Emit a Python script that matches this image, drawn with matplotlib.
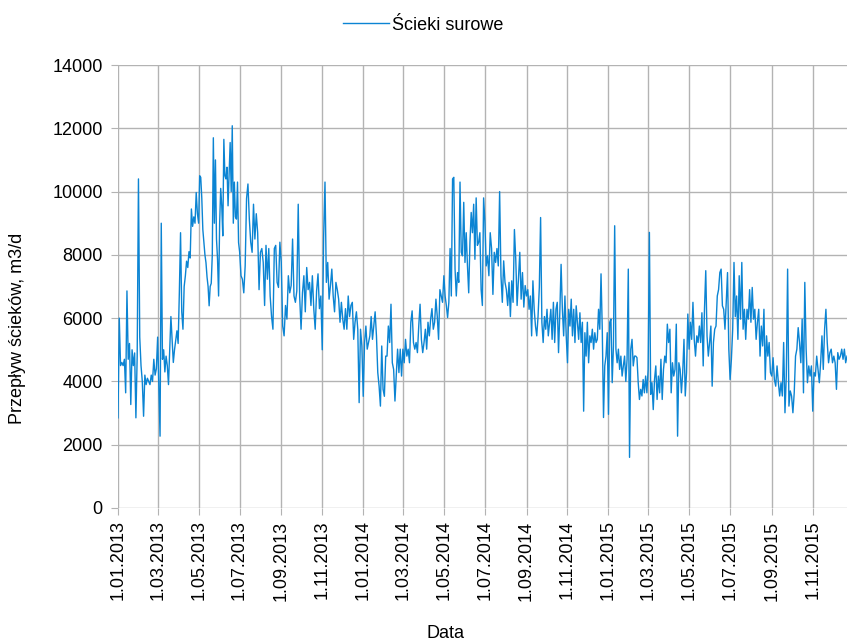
import numpy as np
import pandas as pd
import matplotlib
matplotlib.use("Agg")
import matplotlib.pyplot as plt
from matplotlib.ticker import FuncFormatter, MultipleLocator

plt.rcParams['font.family'] = ['Liberation Sans', 'DejaVu Sans']

# Dobowy przepływ ścieków surowych [m3/d], odczyty w okresach dwumiesięcznych
period_starts = ["2013-01-01", "2013-03-01", "2013-05-01", "2013-07-01", "2013-09-01",
                 "2013-11-01", "2014-01-01", "2014-03-01", "2014-05-01", "2014-07-01",
                 "2014-09-01", "2014-11-01", "2015-01-01", "2015-03-01", "2015-05-01",
                 "2015-07-01", "2015-09-01", "2015-11-01", "2015-12-22"]

flow_2013_01 = [2850, 6000, 4500, 4600, 4500, 4700, 3640, 6860, 4700, 5200, 3270, 5000, 4500, 4900,
                2850, 4800, 10400, 5400, 4500, 4000, 2900, 4200, 3900, 4100, 4000, 3900, 4200, 4000,
                4700, 4200, 4400]
flow_2013_03 = [5400, 3900, 2270, 9000, 4700, 5000, 4300, 4800, 4500, 3900, 5000, 6050, 5300, 4600,
                5000, 5300, 5600, 5200, 6800, 8700, 6200, 5650, 7000, 7340, 7800, 7600, 8100, 7900,
                9450, 8900, 9200, 9000, 9970, 9300]
flow_2013_05 = [9000, 10500, 10450, 9800, 8800, 8400, 8000, 7750, 7300, 7000, 6390, 7000, 7100, 8000,
                11700, 9000, 11000, 8500, 7860, 6700, 9000, 10100, 9550, 8600, 11650, 10500, 10400,
                10770, 9550, 10500, 11550, 10000, 12080, 9000, 10300, 9200, 9130, 10300, 8390]
flow_2013_07 = [8100, 7340, 7230, 6800, 7650, 9780, 10240, 9130, 8400, 8080, 9600, 8500, 9300, 8700,
                6900, 8080, 8200, 7760, 6400, 8300, 7230, 8200, 6700, 6050, 5650, 8200, 8300, 7130,
                6970, 8400]
flow_2013_09 = [7760, 5750, 5440, 6400, 5970, 7340, 6800, 7030, 8500, 6700, 6500, 6860, 9600, 6700,
                5650, 6800, 7340, 6200, 7600, 6900, 7130, 6400, 7340, 6300, 5650, 6860, 7400, 6300,
                6700]
flow_2013_11 = [5000, 8550, 10300, 7130, 7760, 6600, 7030, 7550, 6700, 6200, 7130, 6900, 6600, 5870,
                6500, 5970, 5650, 6300, 5650, 6700, 6050, 6400, 6500, 5330, 5870, 6200, 5650, 3330,
                5650, 5120]
flow_2014_01 = [3530, 5230, 5750, 5020, 5230, 5440, 6050, 5330, 5750, 6200, 5440, 4280, 3850, 3220,
                5120, 3750, 3530, 4800, 4800, 5750, 5230, 6440, 4590, 4380, 3380, 4170, 5020, 4280,
                5020, 4170]
flow_2014_03 = [5020, 4590, 5330, 4800, 5020, 4590, 5870, 6230, 5230, 5020, 5230, 4910, 5750, 6440,
                5330, 4910, 5230, 5650, 5020, 5870, 5440, 5970, 6300, 5650, 5870, 6600, 6050, 5330,
                6900, 6700, 6500]
flow_2014_05 = [7340, 6700, 6400, 6020, 6500, 8200, 6700, 10400, 10450, 7550, 6700, 7440, 7130, 10300,
                8080, 7970, 9660, 7760, 8700, 7650, 6800, 8400, 9340, 8700, 9600, 7860, 9800, 8300,
                8400, 8700, 6900, 6400, 9800]
flow_2014_07 = [9080, 7650, 7970, 7340, 8700, 8200, 6750, 8080, 7760, 8200, 7650, 10000, 7340, 6500,
                7810, 7130, 6900, 6400, 7130, 6050, 7180, 6500, 8800, 7860, 6400, 7230, 8080, 6600,
                7440, 6350, 7030]
flow_2014_09 = [6700, 6900, 6280, 6700, 5440, 7180, 6280, 5750, 5440, 6050, 6970, 9180, 5870, 5230,
                6050, 5650, 6280, 5440, 5870, 6280, 5330, 6500, 5230, 6280, 6500, 4910, 6170, 7700,
                6280, 5440, 6700, 5440]
flow_2014_11 = [4590, 6280, 5750, 6600, 5440, 6280, 5230, 6390, 5870, 5330, 6170, 5230, 5870, 3060,
                5540, 4800, 5870, 4590, 5440, 5230, 5650, 5020, 5540, 5230, 5330, 6280, 5650, 7400,
                5650, 2860, 4490, 4800, 5540]
flow_2015_01 = [2960, 5870, 5970, 3960, 5120, 8920, 5020, 4590, 5020, 4380, 4800, 4170, 4490, 4800,
                4000, 4700, 7550, 1600, 5020, 5330, 4490, 4800, 4800, 4750, 3960, 3430, 3750, 3540,
                4060, 3640, 4170, 3640]
flow_2015_03 = [4380, 8710, 3590, 3960, 3110, 4060, 4490, 3430, 4170, 3640, 4700, 3430, 4380, 4800,
                4590, 5810, 5230, 5650, 3640, 4590, 4170, 4380, 5810, 2270, 4590, 4380, 3640, 4280,
                5330, 3540, 4280, 6130]
flow_2015_05 = [5020, 5870, 5330, 6500, 5330, 4800, 5440, 5230, 5750, 5230, 6170, 4490, 6280, 7500,
                5440, 4800, 5230, 5750, 3850, 5230, 5650, 5750, 6700, 6900, 7440, 7550, 6390, 6280,
                5650, 6500, 7440, 5020]
flow_2015_07 = [4060, 4700, 5650, 7760, 6050, 6700, 5330, 7340, 5970, 7760, 5650, 6280, 5330, 6280,
                5970, 6900, 5870, 6970, 5970, 6280, 5330, 5870, 6280, 4800, 5750, 5120, 6280, 4060,
                5440, 4800, 5230, 4280]
flow_2015_09 = [4170, 4750, 4060, 3850, 4490, 3960, 3540, 3960, 3540, 5230, 3010, 4170, 7550, 3220,
                3700, 3540, 3010, 3640, 4800, 5020, 5700, 5230, 4590, 5970, 3640, 7130, 5020, 3960,
                4490, 4170, 4490]
flow_2015_11 = [3060, 4280, 4170, 4800, 4380, 3960, 4590, 5440, 4380, 5650, 6280, 5230, 4590, 4910,
                5020, 4590, 4800, 4590, 3750, 4910, 4700, 4800, 5020, 4700, 5020, 4590, 4800]

periods = [flow_2013_01, flow_2013_03, flow_2013_05, flow_2013_07, flow_2013_09, flow_2013_11,
           flow_2014_01, flow_2014_03, flow_2014_05, flow_2014_07, flow_2014_09, flow_2014_11,
           flow_2015_01, flow_2015_03, flow_2015_05, flow_2015_07, flow_2015_09, flow_2015_11]

series_label = "Ścieki surowe"
x_label = "Data"
y_label = "Przepływ ścieków, m3/d"

# rozłożenie odczytów równomiernie w obrębie każdego okresu
bounds = pd.to_datetime(period_starts)
dates, values = [], []
for i, vals in enumerate(periods):
    start, end = bounds[i], bounds[i + 1]
    n = len(vals)
    frac = np.arange(n) / (n - 1 if i == len(periods) - 1 else n)
    dates.extend(start + (end - start) * frac)
    values.extend(vals)
df = pd.DataFrame({"Data": dates, "Przeplyw": values})

fig = plt.figure(figsize=(8.47, 6.42), dpi=100)
ax = fig.add_axes([118 / 847, 134 / 642, 729 / 847, 443 / 642])

ax.plot(df["Data"], df["Przeplyw"], color="#0b84d3", linewidth=1.0, label=series_label)

ax.set_ylim(0, 14000)
ax.yaxis.set_major_locator(MultipleLocator(2000))
ax.set_xlim(bounds[0], bounds[-1])
ax.set_xticks(pd.date_range("2013-01-01", "2015-11-01", freq="2MS"))
ax.xaxis.set_major_formatter(FuncFormatter(
    lambda v, pos: (lambda d: f"{d.day}.{d.month:02d}.{d.year}")(matplotlib.dates.num2date(v))))
plt.setp(ax.get_xticklabels(), rotation=90)

ax.grid(True, color="#b3b3b3", linewidth=1.0)
ax.set_axisbelow(True)
for s in ax.spines.values():
    s.set_visible(False)
ax.tick_params(axis="both", length=5, color="#b3b3b3", labelsize=13)
ax.tick_params(axis="y", pad=6)
ax.tick_params(axis="x", pad=4)

fig.text(445 / 847, 1 - 633 / 642, x_label, fontsize=13, ha="center", va="center")
fig.text(18 / 847, 1 - 328 / 642, y_label, fontsize=13, rotation=90, ha="center", va="center")

fig.legend(loc="center", bbox_to_anchor=(0.5, 1 - 25 / 642), frameon=False, fontsize=13,
           handlelength=2.5, handletextpad=0.2)

fig.savefig("out.png", dpi=100)
